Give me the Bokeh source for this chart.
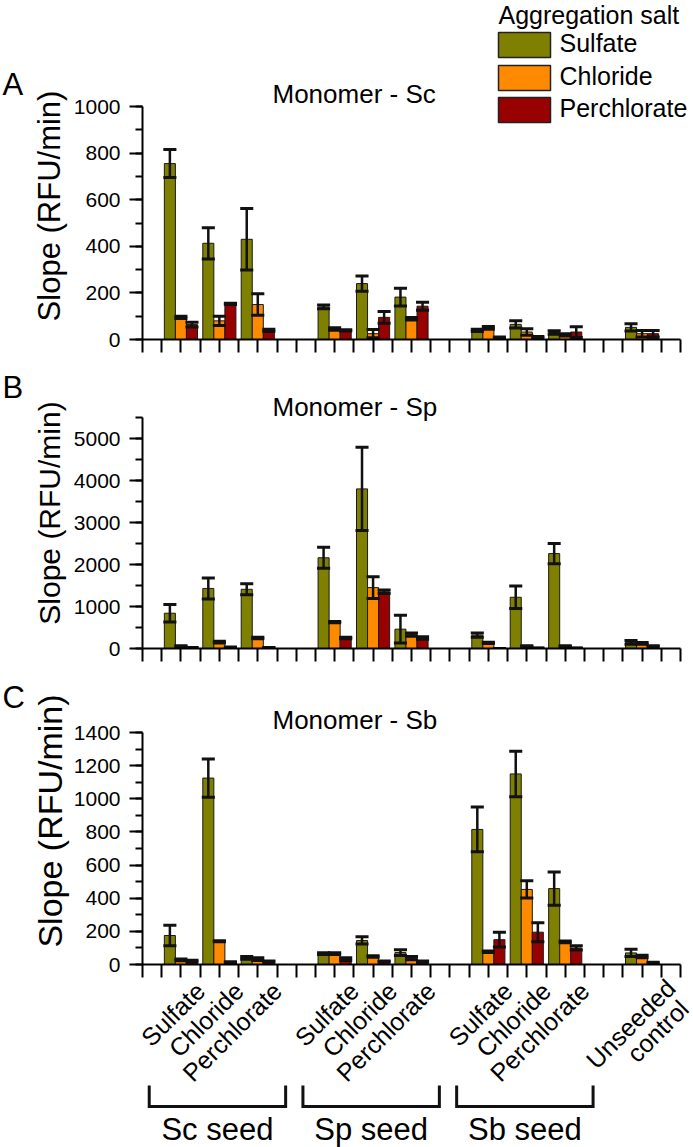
import math
from bokeh.plotting import figure
from bokeh.models import (Range1d, FixedTicker, SingleIntervalTicker, Label,
                          ColumnDataSource, GridBox, Spacer)
from bokeh.embed import file_html
from bokeh.resources import INLINE

# ---------------- data ----------------
group_pos = [2, 4, 6, 10, 12, 14, 18, 20, 22, 26]
tick_labels = ["Sulfate", "Chloride", "Perchlorate",
               "Sulfate", "Chloride", "Perchlorate",
               "Sulfate", "Chloride", "Perchlorate", "Unseeded control"]
salts = ["Sulfate", "Chloride", "Perchlorate"]
seed_groups = ["Sc seed", "Sp seed", "Sb seed"]
seed_centers = [4, 12, 20]
colors = ["#808000", "#FF8A00", "#990000"]

# Panel A: Monomer - Sc
a_sulfate = [755, 413, 430, 140, 240, 182, 39, 65, 30, 52]
a_sulfate_err = [60, 67, 132, 8, 33, 38, 5, 16, 8, 16]
a_chloride = [95, 80, 150, 45, 25, 89, 50, 32, 20, 25]
a_chloride_err = [5, 20, 46, 5, 18, 5, 6, 14, 5, 14]
a_perchlorate = [64, 153, 39, 39, 95, 143, 8, 10, 32, 25]
a_perchlorate_err = [10, 3, 5, 3, 25, 17, 3, 3, 23, 14]

# Panel B: Monomer - Sp
b_sulfate = [840, 1430, 1410, 2160, 3800, 460, 320, 1220, 2260, 145]
b_sulfate_err = [210, 250, 130, 250, 990, 330, 50, 270, 240, 45]
b_chloride = [55, 150, 250, 630, 1450, 330, 135, 55, 55, 120]
b_chloride_err = [10, 20, 15, 15, 260, 40, 15, 10, 10, 20]
b_perchlorate = [20, 30, 20, 250, 1350, 250, 0, 10, 8, 55]
b_perchlorate_err = [5, 5, 5, 15, 40, 30, 0, 3, 3, 10]

# Panel C: Monomer - Sb
c_sulfate = [175, 1125, 40, 66, 145, 72, 815, 1150, 458, 70]
c_sulfate_err = [62, 115, 8, 5, 22, 17, 135, 137, 100, 22]
c_chloride = [28, 141, 32, 66, 48, 38, 77, 453, 137, 48]
c_chloride_err = [5, 3, 8, 5, 5, 10, 5, 52, 5, 8]
c_perchlorate = [20, 14, 18, 32, 18, 18, 150, 195, 100, 10]
c_perchlorate_err = [5, 3, 3, 8, 3, 3, 45, 57, 13, 3]

panels = [
    dict(letter="A", title="Monomer - Sc", ymax=1000, interval=200,
         series=[(a_sulfate, a_sulfate_err), (a_chloride, a_chloride_err),
                 (a_perchlorate, a_perchlorate_err)]),
    dict(letter="B", title="Monomer - Sp", ymax=5500, interval=1000,
         series=[(b_sulfate, b_sulfate_err), (b_chloride, b_chloride_err),
                 (b_perchlorate, b_perchlorate_err)]),
    dict(letter="C", title="Monomer - Sb", ymax=1400, interval=200,
         series=[(c_sulfate, c_sulfate_err), (c_chloride, c_chloride_err),
                 (c_perchlorate, c_perchlorate_err)]),
]

# ---------------- layout (page pixels) ----------------
FONT = "Liberation Sans"
W, H = 693, 1147
FL, FR = 142, 680
XMAX = 28
BW = 0.575      # bar width (data units)
CAPW = 0.68     # error cap width (data units)
geom = [
    dict(top=0, height=370, ft=106, fb=339, ylab_c=205.5, ylab_fs=31,
         letter_y=84, title_y=93),
    dict(top=370, height=310, ft=417, fb=648, ylab_c=512.5, ylab_fs=30,
         letter_y=387, title_y=406),
    dict(top=680, height=467, ft=732, fb=964, ylab_c=820.5, ylab_fs=34,
         letter_y=697, title_y=719),
]


def page_x(xdata):
    return FL + xdata * (FR - FL) / XMAX


figs = []
for panel, g in zip(panels, geom):
    ymax = panel["ymax"]
    p = figure(width=W, height=g["height"],
               x_range=Range1d(0, XMAX), y_range=Range1d(0, ymax),
               output_backend="svg", toolbar_location=None,
               min_border_left=FL, min_border_right=W - FR,
               min_border_top=g["ft"] - g["top"],
               min_border_bottom=g["top"] + g["height"] - g["fb"])
    p.xgrid.visible = False
    p.ygrid.visible = False
    p.outline_line_color = None

    xa = p.xaxis[0]
    xa.ticker = FixedTicker(ticks=list(range(XMAX + 1)), minor_ticks=[])
    xa.major_tick_out = 13
    xa.major_tick_in = 0
    xa.major_label_text_color = None
    xa.major_label_text_alpha = 0
    xa.axis_line_width = 2
    xa.major_tick_line_width = 2
    xa.axis_line_color = "black"
    xa.major_tick_line_color = "black"

    ya = p.yaxis[0]
    ya.ticker = SingleIntervalTicker(interval=panel["interval"], num_minor_ticks=2)
    ya.major_tick_out = 13
    ya.major_tick_in = 0
    ya.minor_tick_out = 7
    ya.minor_tick_in = 0
    ya.axis_line_width = 2
    ya.major_tick_line_width = 2
    ya.minor_tick_line_width = 2
    ya.axis_line_color = "black"
    ya.major_tick_line_color = "black"
    ya.minor_tick_line_color = "black"
    ya.major_label_text_font = FONT
    ya.major_label_text_font_size = "21px"
    ya.major_label_text_color = "black"
    ya.major_label_standoff = 9

    offsets = [-BW, 0.0, BW]
    err_sources = []
    for k, (vals, errs) in enumerate(panel["series"]):
        xs = [gp + offsets[k] for gp in group_pos]
        lo = [max(v - e, 0) for v, e in zip(vals, errs)]
        hi = [v + e for v, e in zip(vals, errs)]
        src = ColumnDataSource(dict(x=xs, top=vals, lo=lo, hi=hi,
                                    cl=[x - CAPW / 2 for x in xs],
                                    cr=[x + CAPW / 2 for x in xs]))
        p.vbar(x="x", top="top", bottom=0, width=BW, source=src,
               fill_color=colors[k], line_color="#1a1a1a", line_width=1)
        err_sources.append(src)
    for src in err_sources:
        p.segment(x0="x", y0="lo", x1="x", y1="hi", source=src,
                  line_color="#111111", line_width=2.5)
        p.segment(x0="cl", y0="hi", x1="cr", y1="hi", source=src,
                  line_color="#111111", line_width=3)
        p.segment(x0="cl", y0="lo", x1="cr", y1="lo", source=src,
                  line_color="#111111", line_width=3)
    figs.append(p)

# ---------------- transparent overlay for texts, legend and brackets ----------------
ov = figure(width=W, height=H, x_range=Range1d(0, W), y_range=Range1d(H, 0),
            output_backend="svg", toolbar_location=None,
            x_axis_type=None, y_axis_type=None,
            min_border_left=0, min_border_right=0, min_border_top=0,
            min_border_bottom=0, tools="")
ov.xgrid.visible = False
ov.ygrid.visible = False
ov.outline_line_color = None
ov.background_fill_color = None
ov.border_fill_color = None


def add_text(text, x, y, size, align="left", angle=0.0):
    ov.add_layout(Label(x=x, y=y, text=text, text_font=FONT,
                        text_font_size=f"{size}px", text_color="black",
                        text_align=align, text_baseline="middle", angle=angle))


for panel, g in zip(panels, geom):
    add_text(panel["letter"], 2, g["letter_y"], 31)
    add_text(panel["title"], 272, g["title_y"], 26)
    add_text("Slope (RFU/min)", 49, g["ylab_c"], g["ylab_fs"],
             align="center", angle=math.pi / 2)

# legend
add_text("Aggregation salt", 498, 14, 25)
box_tops = [32, 65, 97]
ov.quad(left=[498] * 3, right=[550] * 3, top=box_tops,
        bottom=[t + 25 for t in box_tops], fill_color=colors,
        line_color="#222222", line_width=1.5)
for k, s in enumerate(salts):
    add_text(s, 559, box_tops[k] + 10.5, 25)

# rotated category labels under panel C
for gp, lab in zip(group_pos, tick_labels):
    tx = page_x(gp)
    if lab == "Unseeded control":
        first, second = lab.split(" ")
        add_text(first, tx + 29, 983, 25, align="right", angle=math.pi / 4)
        add_text(second, tx + 42, 1004, 25, align="right", angle=math.pi / 4)
    else:
        add_text(lab, tx + 19.5, 986, 25, align="right", angle=math.pi / 4)

# seed brackets
bx, by = [], []
for name, c in zip(seed_groups, seed_centers):
    x0, x1 = page_x(c - 3.65), page_x(c + 3.45)
    bx.append([x0, x0, x1, x1])
    by.append([1085, 1106, 1106, 1085])
    add_text(name, (x0 + x1) / 2, 1129, 31, align="center")
ov.multi_line(xs=bx, ys=by, line_color="#111111", line_width=3,
              line_join="miter")

# The overlay spans spacer rows/cols so that its frame is not aligned with the panels.
grid = GridBox(children=[(Spacer(width=0, height=0), 0, 0),
                         (figs[0], 1, 1), (figs[1], 2, 1), (figs[2], 3, 1),
                         (Spacer(width=0, height=0), 4, 2),
                         (ov, 0, 0, 5, 3)])
open("out.html", "w").write(file_html(grid, INLINE))
